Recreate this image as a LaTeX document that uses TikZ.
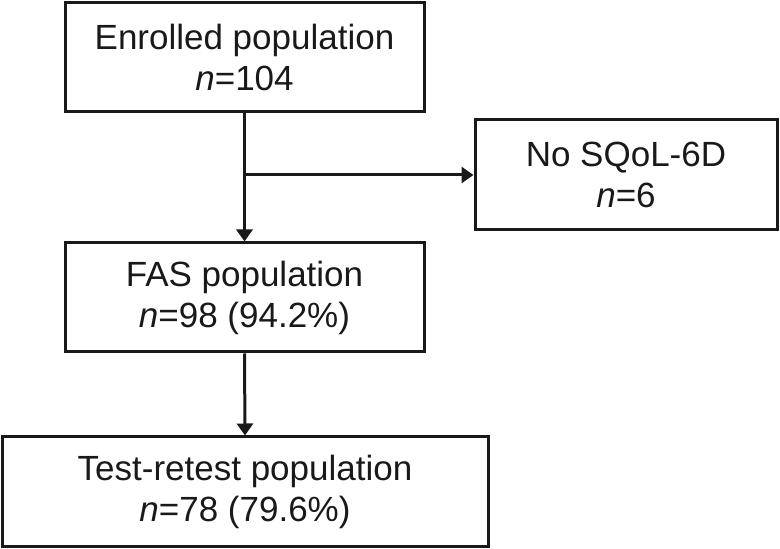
\documentclass[tikz,border=0pt]{standalone}
\usepackage{fontspec}
\setmainfont{Liberation Sans}
\usetikzlibrary{arrows.meta}
\begin{document}
\begin{tikzpicture}[x=1pt,y=1pt,
  box/.style={draw=black!90, line width=3pt, align=center, inner sep=0pt,
    text=black!90, font=\fontsize{35}{41}\selectfont},
  conn/.style={draw=black!90, line width=3pt, -{Triangle[length=12pt,width=16pt]}}]
\useasboundingbox (0,0) rectangle (780,549);
\node[box, minimum width=359pt, minimum height=109pt] (b1) at (244.5,491.5) {Enrolled population\\\textit{n}=104};
\node[box, minimum width=302pt, minimum height=110pt] (b2) at (626,374) {No SQoL-6D\\\textit{n}=6};
\node[box, minimum width=359pt, minimum height=109pt] (b3) at (244.5,251.5) {FAS population\\\textit{n}=98 (94.2\%)};
\node[box, minimum width=486pt, minimum height=110pt] (b4) at (245,57) {Test-retest population\\\textit{n}=78 (79.6\%)};
\coordinate (br) at (b1.south |- b2.west);
\draw[conn] (b1.south) -- (b3.north);
\draw[conn] (br) -- (b2.west);
\draw[conn] (b3.south) -- (b4.north);
\end{tikzpicture}
\end{document}
